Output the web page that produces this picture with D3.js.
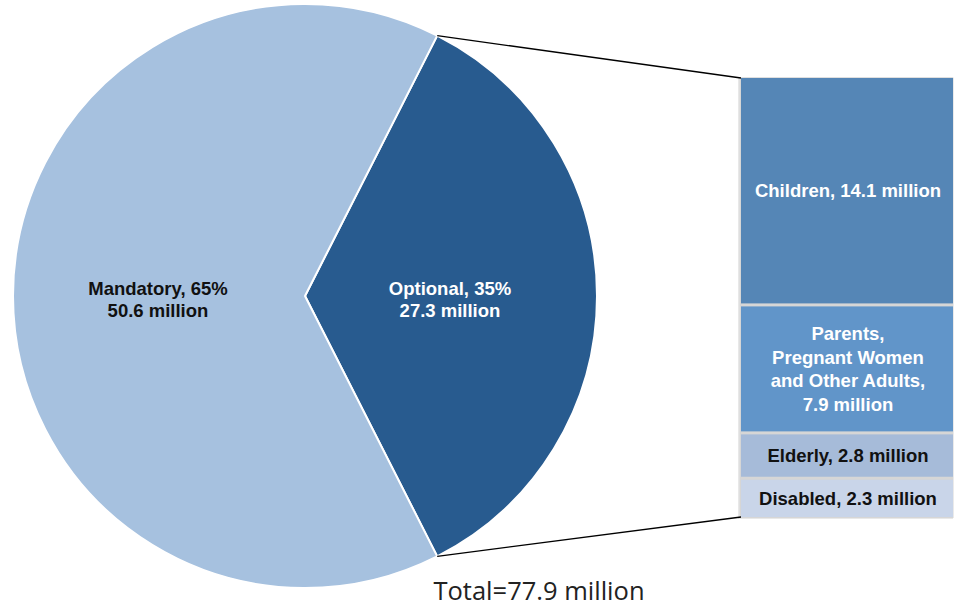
<!DOCTYPE html>
<html><head><meta charset="utf-8">
<script src="https://cdn.jsdelivr.net/npm/d3@7"></script>
<style>body{margin:0;background:#fff;}svg{display:block;}</style>
</head><body><svg id="c" width="955" height="606"></svg>
<script>
const pieCategories = ["Optional", "Mandatory"];
const pieValues = [27.3, 50.6];
const pieLabels = [["Optional, 35%", "27.3 million"], ["Mandatory, 65%", "50.6 million"]];
const barCategories = ["Children", "Parents, Pregnant Women and Other Adults", "Elderly", "Disabled"];
const barValues = [14.1, 7.9, 2.8, 2.3];
const barLabels = [["Children, 14.1 million"], ["Parents,", "Pregnant Women", "and Other Adults,", "7.9 million"], ["Elderly, 2.8 million"], ["Disabled, 2.3 million"]];
const totalLabel = "Total=77.9 million";

const svg = d3.select("#c");
const cx = 305, cy = 296, R = 292;
const pieColors = ["#285b8f", "#a6c1df"];
const barColors = ["#5586b6", "#6195c9", "#a6bbd9", "#c9d5e9"];
const barText = ["#fff", "#fff", "#111", "#111"];
const fontBold = "'Liberation Sans', Arial, sans-serif";

const total = d3.sum(pieValues);
const half = Math.PI * pieValues[0] / total;
const pie = d3.pie().sort(null).startAngle(Math.PI/2 - half).endAngle(Math.PI/2 - half + 2*Math.PI);
const arcs = pie(pieValues);
const arc = d3.arc().innerRadius(0).outerRadius(R);
const g = svg.append("g").attr("transform", `translate(${cx},${cy})`);
g.selectAll("path").data(arcs).join("path")
  .attr("d", arc).attr("fill", (d,i)=>pieColors[i])
  .attr("stroke", "#fff").attr("stroke-width", 2).attr("stroke-linejoin","round");

// pie labels
const labelPos = [[450, 298], [158, 298]];
const labelFill = ["#fff", "#111"];
pieLabels.forEach((lines, i) => {
  const t = svg.append("text").attr("text-anchor","middle")
    .attr("font-family", fontBold).attr("font-weight","bold")
    .attr("font-size", 18.5).attr("fill", labelFill[i]);
  lines.forEach((s, j) => t.append("tspan").attr("x", labelPos[i][0]).attr("y", labelPos[i][1] - 3 + j*22).text(s));
});

// bar
const bx = 741, bw = 212, bTop = 78, bBottom = 517, gap = 3;
const cum = d3.cumsum(barValues);
const barSum = d3.sum(barValues);
const y = d3.scaleLinear().domain([0, barSum]).range([bTop, bBottom]);
svg.append("rect").attr("x", bx-3).attr("y", bTop-1).attr("width", bw+3).attr("height", bBottom-bTop+3).attr("fill","#e8e8e8");
svg.append("rect").attr("x", bx-1.5).attr("y", bTop-0.5).attr("width", bw+2).attr("height", bBottom-bTop+1.5).attr("fill","#d6d6d6");
const segs = barValues.map((v,i)=>({v, y0: i? cum[i-1]:0, y1: cum[i], i}));
svg.selectAll("rect.seg").data(segs).join("rect").attr("class","seg")
  .attr("x", bx).attr("width", bw)
  .attr("y", d => y(d.y0))
  .attr("height", d => y(d.y1) - y(d.y0) - (d.i < segs.length-1 ? gap : 0))
  .attr("fill", d => barColors[d.i]);
segs.forEach(d => {
  const lines = barLabels[d.i];
  const mid = (y(d.y0) + y(d.y1) - (d.i < segs.length-1 ? gap : 0)) / 2;
  const lh = 23.5;
  const t = svg.append("text").attr("text-anchor","middle")
    .attr("font-family", fontBold).attr("font-weight","bold")
    .attr("font-size", 18.5).attr("fill", barText[d.i]);
  lines.forEach((s,j) => t.append("tspan").attr("x", bx + bw/2 + 1)
    .attr("y", mid + (j - (lines.length-1)/2)*lh + 6.5).text(s));
});

// connectors
const a0 = arcs[0].startAngle, a1 = arcs[0].endAngle;
const p0 = [cx + R*Math.sin(a0), cy - R*Math.cos(a0)];
const p1 = [cx + R*Math.sin(a1), cy - R*Math.cos(a1)];
svg.append("line").attr("x1", p0[0]).attr("y1", p0[1]).attr("x2", bx).attr("y2", bTop).attr("stroke","#000").attr("stroke-width",1.3);
svg.append("line").attr("x1", p1[0]).attr("y1", p1[1]).attr("x2", bx).attr("y2", bBottom).attr("stroke","#000").attr("stroke-width",1.3);

svg.append("text").attr("x", 539).attr("y", 600).attr("text-anchor","middle")
  .attr("font-family","'Open Sans', 'Liberation Sans', sans-serif").attr("font-size", 25.5)
  .attr("fill","#222").text(totalLabel);
</script></body></html>
